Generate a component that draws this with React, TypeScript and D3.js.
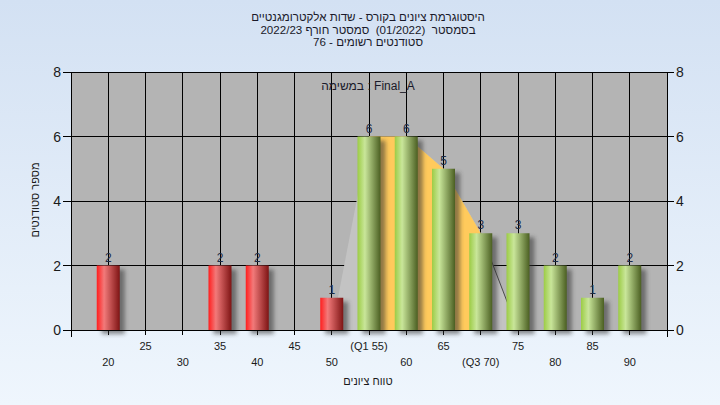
import React from "react";
import * as d3 from "d3";

const categories = [20, 25, 30, 35, 40, 45, 50, 55, 60, 65, 70, 75, 80, 85, 90];
const counts = [2, 0, 0, 2, 2, 0, 1, 6, 6, 5, 3, 3, 2, 1, 2];
const tickLabels = ["20", "25", "30", "35", "40", "45", "50", "(Q1 55)", "60", "65", "(Q3 70)", "75", "80", "85", "90"];
const yTicks = [0, 2, 4, 6, 8];
const passGrade = 55;
const q1 = 55;
const q3 = 70;
const titleLines = [
  "היסטוגרמת ציונים בקורס - שדות אלקטרומגנטיים",
  "בסמסטר  (01/2022)  סמסטר חורף 2022/23",
  "סטודנטים רשומים - 76",
];
const taskLabel = "במשימה : Final_A";
const xTitle = "טווח ציונים";
const yTitle = "מספר סטודנטים";

const W = 720;
const H = 405;
const L = 71;
const R = 667;
const T = 72;
const B = 330;
const FONT = "'Liberation Sans', Arial, sans-serif";

export default function App() {
  const x = d3.scalePoint<number>().domain(categories).range([L, R]).padding(1);
  const y = d3.scaleLinear().domain([0, 8]).range([B, T]);
  const barW = 23;

  const iQ1 = categories.indexOf(q1);
  const iQ3 = categories.indexOf(q3);

  const lightPts: [number, number][] = [];
  lightPts.push([x(categories[iQ1 - 1])!, y(0)]);
  for (let i = iQ1; i <= iQ3; i++) lightPts.push([x(categories[i])!, y(counts[i])]);
  lightPts.push([x(categories[iQ3 + 1])!, y(0)]);

  const area = d3
    .area<number>()
    .x((i) => x(categories[i])!)
    .y0(y(0))
    .y1((i) => y(counts[i]));
  const qIdx = d3.range(iQ1, iQ3 + 1);

  const line = d3.line();

  return (
    <div style={{ position: "fixed", left: 0, top: 0, width: W, height: H }}>
      <svg width={W} height={H} style={{ display: "block" }} fontFamily={FONT}>
        <defs>
          <linearGradient id="bg" x1="0" y1="0" x2="0" y2="1">
            <stop offset="0%" stopColor="#d3e1f3" />
            <stop offset="100%" stopColor="#eff6fd" />
          </linearGradient>
          <linearGradient id="red" x1="0" y1="0" x2="1" y2="0">
            <stop offset="0%" stopColor="#ff1e1e" />
            <stop offset="32%" stopColor="#f27a7a" />
            <stop offset="100%" stopColor="#7e1414" />
          </linearGradient>
          <linearGradient id="green" x1="0" y1="0" x2="1" y2="0">
            <stop offset="0%" stopColor="#9ccc45" />
            <stop offset="32%" stopColor="#c9e69a" />
            <stop offset="100%" stopColor="#4b5f22" />
          </linearGradient>
          <filter id="shadow" x="-50%" y="-50%" width="200%" height="200%">
            <feGaussianBlur stdDeviation="2" />
          </filter>
        </defs>
        <rect x={0} y={0} width={W} height={H} fill="url(#bg)" />

        {/* titles */}
        {titleLines.map((t, i) => (
          <text key={i} x={368} y={21 + i * 12.5} textAnchor="middle" fontSize={11.6} fill="#1a1a2a" direction="rtl" style={{ whiteSpace: "pre" }}>
            {t}
          </text>
        ))}

        {/* plot area */}
        <rect x={L} y={T} width={R - L} height={B - T} fill="#b4b4b4" />

        {/* grid */}
        {yTicks.map((v) => (
          <line key={"gy" + v} x1={L} x2={R} y1={y(v)} y2={y(v)} stroke="#000" strokeWidth={1} shapeRendering="crispEdges" />
        ))}
        {categories.map((c) => (
          <line key={"gx" + c} x1={x(c)} x2={x(c)} y1={T} y2={B + 5} stroke="#000" strokeWidth={1} shapeRendering="crispEdges" />
        ))}

        {/* distribution overlay */}
        <polygon points={lightPts.map((p) => p.join(",")).join(" ")} fill="#c3c3c3" />
        <path d={area(qIdx) || ""} fill="#ffca5c" />
        <path d={line([lightPts[lightPts.length - 2], lightPts[lightPts.length - 1]]) || ""} stroke="#4a4a4a" strokeWidth={1} fill="none" />

        {/* bar shadows */}
        {categories.map((c, i) =>
          counts[i] > 0 ? (
            <rect key={"s" + c} x={x(c)! - barW / 2 + 5} y={y(counts[i]) + 4} width={barW} height={B - y(counts[i])} fill="#303030" opacity={0.55} filter="url(#shadow)" />
          ) : null
        )}

        {/* bars */}
        {categories.map((c, i) =>
          counts[i] > 0 ? (
            <rect key={"b" + c} x={x(c)! - barW / 2} y={y(counts[i])} width={barW} height={B - y(counts[i])} fill={c < passGrade ? "url(#red)" : "url(#green)"} />
          ) : null
        )}

        {/* value labels */}
        {categories.map((c, i) =>
          counts[i] > 0 ? (
            <text key={"v" + c} x={x(c)!} y={y(counts[i]) - 4} textAnchor="middle" fontSize={12} fill="#1c2a44">
              {counts[i]}
            </text>
          ) : null
        )}

        {/* axes */}
        <line x1={L} x2={R} y1={B} y2={B} stroke="#000" shapeRendering="crispEdges" />
        <line x1={L} x2={L} y1={T} y2={B + 7} stroke="#000" shapeRendering="crispEdges" />
        <line x1={R} x2={R} y1={T} y2={B + 7} stroke="#000" shapeRendering="crispEdges" />
        {yTicks.map((v) => (
          <g key={"yt" + v}>
            <line x1={L - 8} x2={L} y1={y(v)} y2={y(v)} stroke="#000" shapeRendering="crispEdges" />
            <line x1={R} x2={R + 7} y1={y(v)} y2={y(v)} stroke="#000" shapeRendering="crispEdges" />
            <text x={L - 10} y={y(v) + 5} textAnchor="end" fontSize={14} fill="#1a1a1a">
              {v}
            </text>
            <text x={R + 9} y={y(v) + 5} textAnchor="start" fontSize={14} fill="#1a1a1a">
              {v}
            </text>
          </g>
        ))}

        {/* x tick labels */}
        {categories.map((c, i) => (
          <text key={"xl" + c} x={x(c)!} y={i % 2 === 0 ? 366 : 350} textAnchor="middle" fontSize={11} fill="#1a1a1a">
            {tickLabels[i]}
          </text>
        ))}

        {/* task label */}
        <text x={368} y={90} textAnchor="middle" fontSize={12} fill="#1a1a2a" direction="ltr">
          {taskLabel}
        </text>

        {/* axis titles */}
        <text x={368} y={385} textAnchor="middle" fontSize={11} fill="#1a1a1a">
          {xTitle}
        </text>
        <text transform="translate(39,200) rotate(-90)" textAnchor="middle" fontSize={11} fill="#1a1a1a">
          {yTitle}
        </text>
      </svg>
    </div>
  );
}
